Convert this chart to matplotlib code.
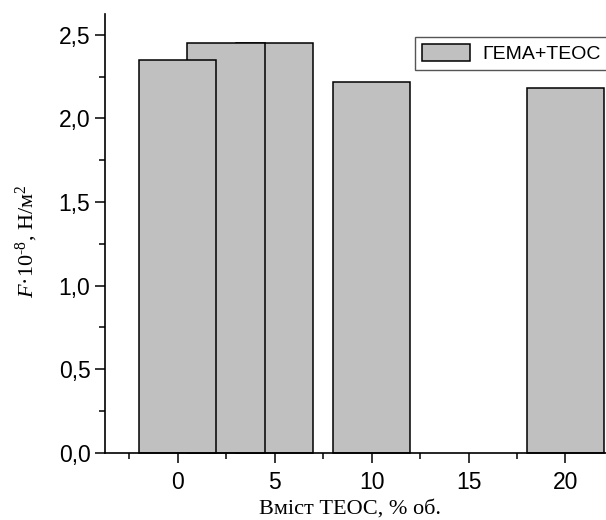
import matplotlib
matplotlib.use('Agg')
import matplotlib.pyplot as plt
from matplotlib.ticker import MultipleLocator, FuncFormatter

plt.rcParams['font.family'] = ['Liberation Sans', 'DejaVu Sans']
plt.rcParams['mathtext.fontset'] = 'custom'
plt.rcParams['mathtext.rm'] = 'Liberation Serif'
plt.rcParams['mathtext.it'] = 'Liberation Serif:italic'

# data
teos = [0, 2.5, 5, 10, 20]          # % vol
force = [2.35, 2.45, 2.45, 2.22, 2.18]  # F*10^-8, N/m^2
series_name = 'ГЕМА+ТЕОС'
x_label = 'Вміст ТЕОС, % об.'
y_label = r'$F$·10$^{\text{-8}}$, Н/м$^{2}$'

fig = plt.figure(figsize=(6.06, 5.2), dpi=100)
# axes run past the right edge like the cropped original
ax = fig.add_axes([105/606, 67.3/520, 538/606, 438.7/520])

# draw from last to first so earlier bars sit on top
ax.bar(teos[::-1], force[::-1], width=4, color='#c0c0c0', edgecolor='black',
       linewidth=1.1, label=series_name, clip_on=False)

ax.set_xlim(-3.75, 24)
ax.set_ylim(0, 2.625)

for s in ['top', 'right']:
    ax.spines[s].set_visible(False)
for s in ['left', 'bottom']:
    ax.spines[s].set_linewidth(1.2)

ax.xaxis.set_major_locator(MultipleLocator(5))
ax.xaxis.set_minor_locator(MultipleLocator(2.5))
ax.yaxis.set_major_locator(MultipleLocator(0.5))
ax.yaxis.set_minor_locator(MultipleLocator(0.25))
ax.yaxis.set_major_formatter(FuncFormatter(lambda v, p: ('%.1f' % v).replace('.', ',')))
ax.tick_params(which='major', direction='out', length=7, width=1.1, labelsize=16.5)
ax.tick_params(which='minor', direction='out', length=4, width=1.1)
ax.tick_params(axis='y', pad=3.5)
ax.tick_params(axis='x', pad=6)

leg = ax.legend(loc='upper left', bbox_to_anchor=(415/606, 1 - 37/520),
                bbox_transform=fig.transFigure, borderaxespad=0, fancybox=False,
                fontsize=14, handlelength=2.5, handleheight=0.95, borderpad=0.35,
                handletextpad=0.6)
leg.get_frame().set_edgecolor('#555555')
leg.get_frame().set_linewidth(1.0)
leg.get_frame().set_alpha(None)

fig.text(350/606, 1 - 514/520, x_label, ha='center', va='baseline',
         family='Liberation Serif', fontsize=16)
fig.text(27/606, 1 - 241/520, y_label, ha='center', va='center', rotation=90,
         family='Liberation Serif', fontsize=16)

fig.savefig('out.png', dpi=100)
